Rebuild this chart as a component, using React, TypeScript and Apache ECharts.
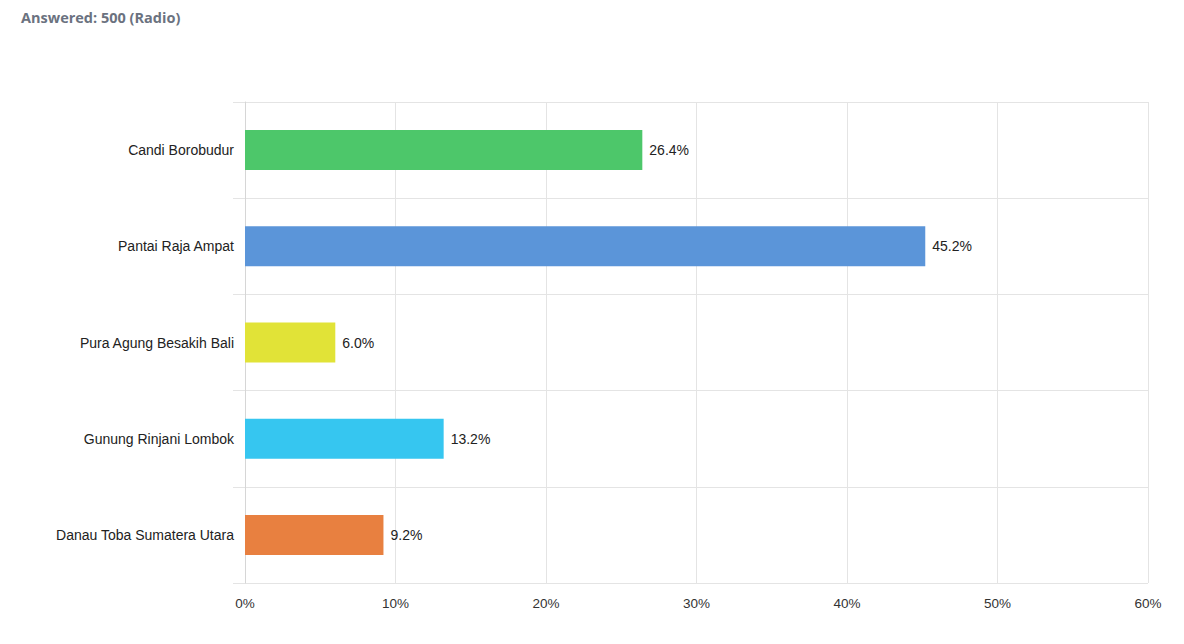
import React, { useEffect, useRef } from "react";
import * as echarts from "echarts";

const categories = [
  "Candi Borobudur",
  "Pantai Raja Ampat",
  "Pura Agung Besakih Bali",
  "Gunung Rinjani Lombok",
  "Danau Toba Sumatera Utara",
];
const values = [26.4, 45.2, 6.0, 13.2, 9.2];
const barColors = ["#4dc76a", "#5b95d9", "#e1e337", "#36c6f0", "#e88040"];
const xTicks = [0, 10, 20, 30, 40, 50, 60];

export default function App() {
  const ref = useRef<HTMLDivElement>(null);
  useEffect(() => {
    const chart = echarts.init(ref.current!, null, { renderer: "svg" });
    chart.setOption({
      animation: false,
      backgroundColor: "#ffffff",
      title: {
        text: "Answered: 500 (Radio)",
        left: 16,
        top: 5,
        textStyle: {
          fontFamily: "Open Sans",
          fontWeight: "bold",
          fontSize: 14.5,
          color: "#6b7280",
        },
      },
      grid: { left: 245, right: 36, top: 102, bottom: 61, containLabel: false },
      xAxis: {
        type: "value",
        min: xTicks[0],
        max: xTicks[xTicks.length - 1],
        interval: 10,
        axisLine: { show: false },
        axisTick: { show: false },
        splitLine: { show: true, lineStyle: { color: "#e4e4e4", width: 1 } },
        axisLabel: {
          formatter: (v: number) => v + "%",
          color: "#333333",
          fontFamily: "Liberation Sans, Arial",
          fontSize: 13.5,
          margin: 13,
        },
      },
      yAxis: {
        type: "category",
        inverse: true,
        data: categories,
        axisLine: { show: true, lineStyle: { color: "#d6d6d6" } },
        axisTick: { show: true, length: 12, lineStyle: { color: "#e4e4e4" } },
        splitLine: { show: true, lineStyle: { color: "#e4e4e4" } },
        axisLabel: {
          color: "#222222",
          fontFamily: "Liberation Sans, Arial",
          fontSize: 14,
          margin: 11,
        },
      },
      series: [
        {
          type: "bar",
          barWidth: 40,
          data: values.map((v, i) => ({
            value: v,
            itemStyle: { color: barColors[i] },
          })),
          label: {
            show: true,
            position: "right",
            distance: 7,
            formatter: (p: any) => Number(p.value).toFixed(1) + "%",
            color: "#222222",
            fontFamily: "Liberation Sans, Arial",
            fontSize: 14,
          },
        },
      ],
    });
    return () => chart.dispose();
  }, []);
  return (
    <div
      ref={ref}
      style={{ position: "fixed", left: 0, top: 0, width: 1184, height: 644 }}
    />
  );
}
